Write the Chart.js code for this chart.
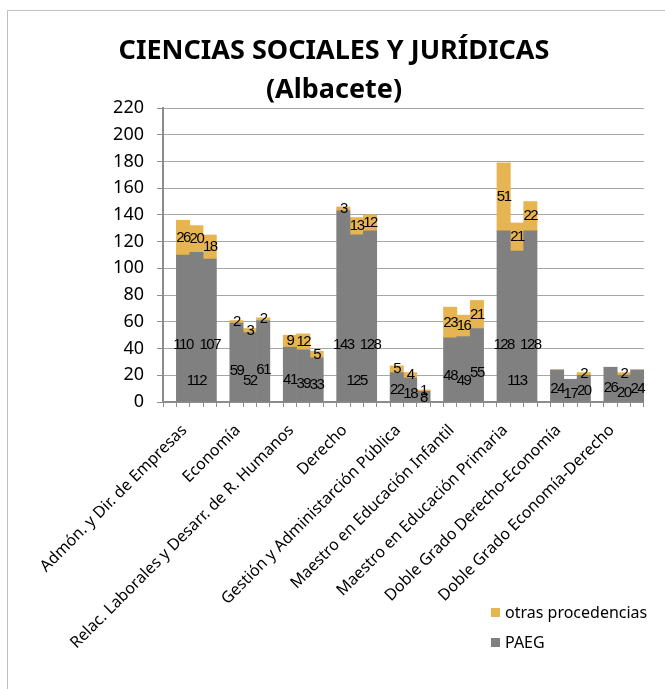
<!DOCTYPE html>
<html>
<head>
<meta charset="utf-8">
<script src="https://cdn.jsdelivr.net/npm/chart.js@4/dist/chart.umd.min.js"></script>
<style>
  html, body { margin: 0; padding: 0; background: #fff; }
  #wrap { width: 665px; height: 689px; position: relative; }
</style>
</head>
<body>
<div id="wrap"><canvas id="chart" width="665" height="689"></canvas></div>
<script>
// Titulaciones (grupos de 3 barras)
const categories = [
    'Admón. y Dir. de Empresas',
    'Economía',
    'Relac. Laborales y Desarr. de R. Humanos',
    'Derecho',
    'Gestión y Administarción Pública',
    'Maestro en Educación Infantil',
    'Maestro en Educación Primaria',
    'Doble Grado Derecho-Economía',
    'Doble Grado Economía-Derecho'
];

// PAEG, tres barras por titulación
const paeg = [
    [110, 112, 107],
    [59, 52, 61],
    [41, 39, 33],
    [143, 125, 128],
    [22, 18, 8],
    [48, 49, 55],
    [128, 113, 128],
    [24, 17, 20],
    [26, 20, 24]
];

// otras procedencias
const otras = [
    [26, 20, 18],
    [2, 3, 2],
    [9, 12, 5],
    [3, 13, 12],
    [5, 4, 1],
    [23, 16, 21],
    [51, 21, 22],
    [0, 0, 2],
    [0, 2, 0]
];

const yTicks = [0, 20, 40, 60, 80, 100, 120, 140, 160, 180, 200, 220];

const seriesNames = ['PAEG', 'otras procedencias'];
const colors = ['#808080', '#E6B450'];

// cada grupo: un hueco + tres barras pegadas, la etiqueta en la barra central
const slotLabels = [];
const paegSlots = [];
const otrasSlots = [];
categories.forEach((c, i) => {
    slotLabels.push('', '', c, '');
    paegSlots.push(null, ...paeg[i]);
    otrasSlots.push(null, ...otras[i]);
});

const baseFont = "'Noto Sans', sans-serif";

// borde exterior, título y leyenda dibujados a mano
const decorPlugin = {
    id: 'decor',
    beforeDraw(chart) {
        const ctx = chart.ctx;
        ctx.save();
        ctx.strokeStyle = '#bfbfbf';
        ctx.lineWidth = 1;
        ctx.strokeRect(7.5, 10.5, 720, 720);
        ctx.restore();
    },
    afterDraw(chart) {
        const ctx = chart.ctx;
        ctx.save();
        ctx.fillStyle = '#000';
        ctx.textAlign = 'center';
        ctx.textBaseline = 'middle';
        ctx.font = 'bold 27px ' + baseFont;
        ctx.fillText('CIENCIAS SOCIALES Y JURÍDICAS', 334, 51);
        ctx.fillText('(Albacete)', 334, 90);

        // leyenda: otras procedencias arriba, PAEG abajo
        ctx.font = '16px ' + baseFont;
        ctx.textAlign = 'left';
        [1, 0].forEach((d, k) => {
            const y = 613 + k * 30;
            ctx.fillStyle = colors[d];
            ctx.fillRect(491, y - 5, 9, 9);
            ctx.fillStyle = '#000';
            ctx.fillText(seriesNames[d], 505, y);
        });
        ctx.restore();
    }
};

// valores sobre las barras
const valuePlugin = {
    id: 'values',
    afterDatasetsDraw(chart) {
        const ctx = chart.ctx;
        const yScale = chart.scales.y;
        ctx.save();
        ctx.font = "15px 'Liberation Sans', sans-serif";
        ctx.letterSpacing = '-1.5px';
        ctx.fillStyle = '#000';
        ctx.textAlign = 'center';
        ctx.textBaseline = 'middle';
        chart.data.datasets.forEach((ds, di) => {
            const meta = chart.getDatasetMeta(di);
            meta.data.forEach((bar, i) => {
                const v = ds.data[i];
                if (!v) return;
                let y;
                if (di === 0) {
                    const pos = i % 4 === 2 ? Math.min(v * 0.35, 16) : Math.min(v * 0.4, 43);
                    y = yScale.getPixelForValue(pos);
                } else {
                    y = (bar.y + bar.base) / 2;
                }
                ctx.fillText(String(v), bar.x, y);
            });
        });
        ctx.restore();
    }
};

const ctx = document.getElementById('chart').getContext('2d');
const chart = new Chart(ctx, {
    type: 'bar',
    data: {
        labels: slotLabels,
        datasets: [
            {
                label: seriesNames[0],
                data: paegSlots,
                backgroundColor: colors[0],
                barPercentage: 1,
                categoryPercentage: 1,
                borderWidth: 0
            },
            {
                label: seriesNames[1],
                data: otrasSlots,
                backgroundColor: colors[1],
                barPercentage: 1,
                categoryPercentage: 1,
                borderWidth: 0
            }
        ]
    },
    options: {
        responsive: false,
        animation: false,
        layout: {
            padding: { top: 108, right: 14, left: 0, bottom: 0 }
        },
        plugins: {
            legend: { display: false },
            title: { display: false },
            tooltip: { enabled: false }
        },
        scales: {
            x: {
                stacked: true,
                grid: {
                    display: true,
                    drawOnChartArea: false,
                    drawTicks: true,
                    tickLength: 5,
                    color: '#8c8c8c',
                    offset: true
                },
                border: { color: '#8c8c8c', width: 2 },
                ticks: {
                    autoSkip: false,
                    maxRotation: 45,
                    minRotation: 45,
                    padding: 14,
                    labelOffset: -12,
                    color: '#000',
                    font: { family: baseFont, size: 16 }
                },
                afterFit(scale) {
                    scale.height = 287;
                }
            },
            y: {
                stacked: true,
                min: 0,
                max: 220,
                afterBuildTicks(scale) {
                    scale.ticks = yTicks.map(v => ({ value: v }));
                },
                grid: {
                    color: '#a6a6a6',
                    lineWidth: 1,
                    drawTicks: true,
                    tickLength: 6,
                    tickColor: '#8c8c8c'
                },
                border: { color: '#8c8c8c', width: 2 },
                ticks: {
                    padding: 13,
                    color: '#000',
                    font: { family: baseFont, size: 18 }
                },
                afterFit(scale) {
                    scale.width = 163;
                }
            }
        }
    },
    plugins: [decorPlugin, valuePlugin]
});
</script>
</body>
</html>
